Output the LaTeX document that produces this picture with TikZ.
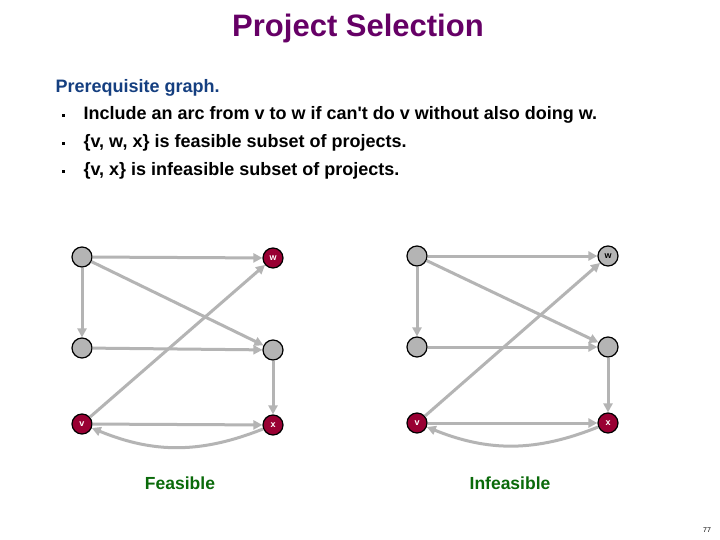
\documentclass[tikz,border=0pt]{standalone}
\usepackage{fontspec}
\setmainfont{Liberation Sans}
\usetikzlibrary{arrows.meta,positioning}
\definecolor{titlepurple}{HTML}{660066}
\definecolor{headblue}{HTML}{153F80}
\definecolor{feasgreen}{HTML}{0A6A0A}
\definecolor{projred}{HTML}{990033}
\definecolor{arcgray}{HTML}{B4B4B4}
\tikzset{
  proj/.style={circle, draw=black, line width=1.2pt, fill=arcgray, minimum size=20pt,
               inner sep=0pt, font=\bfseries\fontsize{9}{9}\selectfont},
  chosen/.style={proj, fill=projred, text=white},
  arc/.style={draw=arcgray, line width=3pt, -{Triangle[length=9pt,width=9pt]}},
  bulletline/.style={anchor=west, font=\bfseries\fontsize{18}{20}\selectfont},
  bulletmark/.style={fill=black, minimum size=3pt, inner sep=0pt},
  caption/.style={text=feasgreen, font=\bfseries\fontsize{17.5}{18}\selectfont},
}
\begin{document}
\begin{tikzpicture}[x=1pt, y=-1pt]
  \useasboundingbox[fill=white] (0,0) rectangle (720,540);
  % heading and bullets
  \node[text=titlepurple, font=\bfseries\fontsize{31}{33}\selectfont] (title) at (358,28) {Project Selection};
  \node[anchor=west, text=headblue, font=\bfseries\fontsize{18}{20}\selectfont] (head) at (52,88) {Prerequisite graph.};
  \node[bulletmark] (b1) at (63,116) {};
  \node[bulletmark] (b2) at (63,144) {};
  \node[bulletmark] (b3) at (63,172) {};
  \node[bulletline] (t1) at (80,115) {Include an arc from v to w if can\textquotesingle t do v without also doing w.};
  \node[bulletline] (t2) at (80,143) {\{v, w, x\} is feasible subset of projects.};
  \node[bulletline] (t3) at (80,171) {\{v, x\} is infeasible subset of projects.};
  % feasible graph
  \node[proj]   (a) at (82,257)  {};
  \node[chosen] (w) at (273,258) {w};
  \node[proj]   (c) at (82,348)  {};
  \node[proj]   (d) at (273,350) {};
  \node[chosen] (v) at (82,424)  {v};
  \node[chosen] (x) at (273,425) {x};
  \draw[arc] (a) -- (w);
  \draw[arc] (a) -- (d);
  \draw[arc] (a) -- (c);
  \draw[arc] (c) -- (d);
  \draw[arc] (d) -- (x);
  \draw[arc] (v) -- (x);
  \draw[arc] (v) -- (w);
  \draw[arc] (x) to[bend left=22] (v);
  \node[caption] (feas) at (180,483) {Feasible};
  % infeasible graph
  \node[proj]   (a2) at (417,256) {};
  \node[proj]   (w2) at (608,256) {w};
  \node[proj]   (c2) at (417,347) {};
  \node[proj]   (d2) at (608,347) {};
  \node[chosen] (v2) at (417,423) {v};
  \node[chosen] (x2) at (608,423) {x};
  \draw[arc] (a2) -- (w2);
  \draw[arc] (a2) -- (d2);
  \draw[arc] (a2) -- (c2);
  \draw[arc] (c2) -- (d2);
  \draw[arc] (d2) -- (x2);
  \draw[arc] (v2) -- (x2);
  \draw[arc] (v2) -- (w2);
  \draw[arc] (x2) to[bend left=22] (v2);
  \node[caption] (infeas) at (510,483) {Infeasible};
  \node[font=\fontsize{7}{8}\selectfont] (page) at (707,530) {77};
\end{tikzpicture}
\end{document}
